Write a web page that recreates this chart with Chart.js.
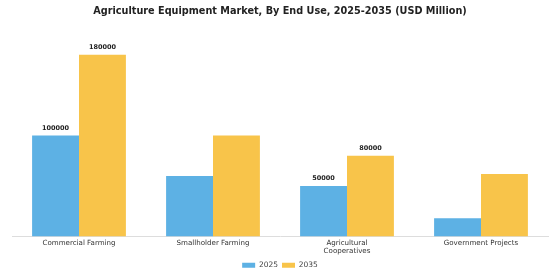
<!DOCTYPE html>
<html>
<head>
<meta charset="utf-8">
<script src="https://cdn.jsdelivr.net/npm/chart.js@4"></script>
<style>
  html, body { margin: 0; padding: 0; background: #fff; }
  #wrap { width: 560px; height: 280px; }
</style>
</head>
<body>
<div id="wrap"><canvas id="grafico" width="560" height="280"></canvas></div>
<script>
// Datos
const categorias = ["Commercial Farming", "Smallholder Farming", ["Agricultural", "Cooperatives"], "Government Projects"];
const valores2025 = [100000, 60000, 50000, 18000];
const valores2035 = [180000, 100000, 80000, 62000];
// Etiquetas visibles solo en algunas barras
const etiquetas2025 = ["100000", "", "50000", ""];
const etiquetas2035 = ["180000", "", "80000", ""];

const azul = "#5DB1E4";
const amarillo = "#F8C44A";

const etiquetasPlugin = {
    id: "etiquetas",
    afterDatasetsDraw(chart) {
        const ctx = chart.ctx;
        const listas = [etiquetas2025, etiquetas2035];
        ctx.save();
        ctx.font = "bold 6.5px 'DejaVu Sans'";
        ctx.fillStyle = "#222";
        ctx.textAlign = "center";
        ctx.textBaseline = "bottom";
        chart.data.datasets.forEach((ds, i) => {
            chart.getDatasetMeta(i).data.forEach((bar, j) => {
                const txt = listas[i][j];
                if (txt) ctx.fillText(txt, bar.x, bar.y - 4);
            });
        });
        ctx.restore();
    }
};

new Chart(document.getElementById("grafico").getContext("2d"), {
    type: "bar",
    data: {
        labels: categorias,
        datasets: [
            { label: "2025", data: valores2025, backgroundColor: azul },
            { label: "2035", data: valores2035, backgroundColor: amarillo }
        ]
    },
    options: {
        responsive: false,
        animation: false,
        layout: { padding: { left: 12, right: 12, top: 0, bottom: 1 } },
        datasets: { bar: { categoryPercentage: 0.7, barPercentage: 1.0 } },
        plugins: {
            title: {
                display: true,
                text: "Agriculture Equipment Market, By End Use, 2025-2035 (USD Million)",
                color: "#222",
                font: { family: "DejaVu Sans", size: 9.7, weight: "bold" },
                padding: { top: 6, bottom: 17 }
            },
            legend: {
                position: "bottom",
                labels: {
                    boxWidth: 13,
                    boxHeight: 5,
                    color: "#444",
                    font: { family: "DejaVu Sans", size: 7.5 },
                    padding: 4
                }
            },
            tooltip: { enabled: false }
        },
        scales: {
            x: {
                grid: { display: false, drawTicks: false },
                border: { color: "#ddd" },
                ticks: { color: "#333", font: { family: "DejaVu Sans", size: 7.1 }, padding: 2, maxRotation: 0 }
            },
            y: {
                display: false,
                min: 0,
                max: 200000
            }
        }
    },
    plugins: [etiquetasPlugin]
});
</script>
</body>
</html>
